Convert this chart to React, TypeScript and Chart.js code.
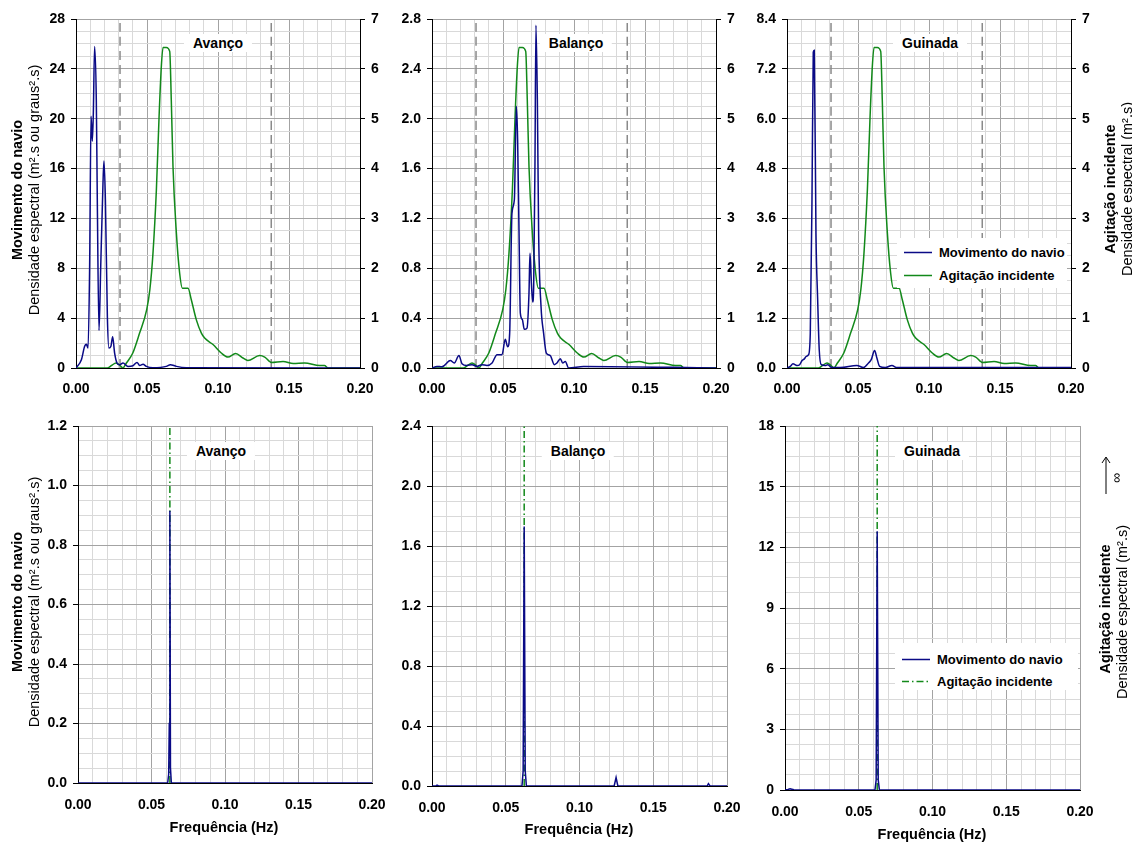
import React, { useEffect, useRef } from 'react';
import { Chart, registerables } from 'chart.js';
Chart.register(...registerables);

const W = 1132;
const H = 843;

// ---------- DATA ----------
// Incident wave spectrum (right axis, top row)
const waveFreq = [0, 0.022, 0.025, 0.0282, 0.031, 0.033, 0.0355, 0.040, 0.0448, 0.0498, 0.052, 0.0542, 0.0566, 0.0585, 0.0601, 0.0613, 0.0636, 0.066, 0.0671, 0.0683, 0.0707, 0.073, 0.0749, 0.0789, 0.0812, 0.0847, 0.0883, 0.0906, 0.0965, 0.1023, 0.107, 0.1124, 0.1176, 0.121, 0.1293, 0.1329, 0.1376, 0.1458, 0.153, 0.161, 0.1716, 0.175, 0.1775, 0.2];
const waveDensity = [0, 0, 0.05, 0.1, 0.05, 0, 0.1, 0.3, 0.7, 1.17, 1.57, 2.3, 3.57, 5.04, 6.05, 6.43, 6.43, 6.35, 5.38, 4.04, 2.7, 1.9, 1.6, 1.6, 1.37, 0.97, 0.7, 0.6, 0.47, 0.3, 0.22, 0.29, 0.2, 0.15, 0.25, 0.22, 0.11, 0.13, 0.09, 0.1, 0.05, 0.05, 0, 0];

// Ship motion, irregular waves (top row)
const avancoFreq = [0, 0.0038, 0.0061, 0.0073, 0.0085, 0.0096, 0.0106, 0.0115, 0.0122, 0.0131, 0.0143, 0.015, 0.0162, 0.0174, 0.019, 0.0197, 0.0207, 0.0221, 0.0232, 0.0246, 0.0258, 0.0272, 0.0289, 0.0308, 0.0331, 0.0366, 0.0401, 0.043, 0.0448, 0.0472, 0.0495, 0.0542, 0.0636, 0.0664, 0.0707, 0.0777, 0.2];
const avancoDensity = [0, 0.67, 1.74, 1.9, 1.6, 8.1, 20.2, 18.2, 20.4, 25.8, 21.5, 13.5, 3.0, 8.1, 14.8, 16.6, 13.5, 4.1, 1.6, 1.74, 2.5, 1.2, 0.4, 0.27, 0.4, 0.13, 0.18, 0.45, 0.2, 0.3, 0.13, 0.03, 0.13, 0.27, 0.13, 0.03, 0];

const balancoFreq = [0, 0.0035, 0.007, 0.0129, 0.0157, 0.019, 0.0211, 0.0246, 0.0282, 0.0317, 0.0352, 0.0387, 0.0423, 0.0458, 0.0493, 0.0516, 0.0533, 0.0547, 0.0563, 0.058, 0.0594, 0.0603, 0.0613, 0.0622, 0.0636, 0.065, 0.0669, 0.0683, 0.069, 0.07, 0.0709, 0.0716, 0.0725, 0.0732, 0.0742, 0.0751, 0.0768, 0.0786, 0.0805, 0.0833, 0.0861, 0.088, 0.0904, 0.092, 0.0939, 0.0962, 0.1068, 0.2];
const balancoDensity = [0, 0.013, 0.01, 0.06, 0.04, 0.1, 0.035, 0.02, 0.027, 0.013, 0.027, 0.02, 0.04, 0.107, 0.107, 0.23, 0.17, 0.28, 1.24, 1.35, 2.1, 1.83, 1.08, 0.44, 0.39, 0.31, 0.32, 0.6, 0.92, 0.68, 0.53, 0.65, 1.62, 2.75, 2.15, 1.08, 0.49, 0.28, 0.12, 0.1, 0.027, 0.04, 0.075, 0.04, 0.053, 0, 0.013, 0];

const guinadaFreq = [0, 0.0023, 0.0042, 0.007, 0.0089, 0.0106, 0.0122, 0.0136, 0.0152, 0.0164, 0.0176, 0.0185, 0.0192, 0.0204, 0.0216, 0.0227, 0.0241, 0.027, 0.0286, 0.0317, 0.0375, 0.0492, 0.0539, 0.0574, 0.0593, 0.0617, 0.0633, 0.0652, 0.0692, 0.0739, 0.0774, 0.2];
const guinadaDensity = [0, 0.04, 0.1, 0.06, 0.08, 0.18, 0.22, 0.28, 0.32, 0.84, 4.05, 7.6, 7.65, 3.24, 1.64, 0.44, 0.08, 0.06, 0.08, 0.01, 0.01, 0.06, 0.01, 0.12, 0.2, 0.42, 0.24, 0.04, 0.01, 0.06, 0.01, 0.01];

// Ship motion, regular waves (bottom row)
const avancoRegFreq = [0, 0.061, 0.0617, 0.0621, 0.0625, 0.0629, 0.0635, 0.2];
const avancoRegDensity = [0, 0, 0.03, 0.2, 0.915, 0.05, 0, 0];
const balancoRegFreq = [0, 0.0025, 0.0034, 0.0045, 0.061, 0.0618, 0.0625, 0.0632, 0.064, 0.1235, 0.1248, 0.126, 0.1865, 0.1874, 0.1885, 0.2];
const balancoRegDensity = [0, 0, 0.006, 0, 0, 0.1, 1.73, 0.1, 0, 0, 0.056, 0, 0, 0.016, 0, 0];
const guinadaRegFreq = [0, 0.002, 0.0034, 0.006, 0.061, 0.0618, 0.0625, 0.0632, 0.064, 0.2];
const guinadaRegDensity = [0, 0.03, 0.06, 0.01, 0, 0.5, 12.8, 0.5, 0, 0];

// Regular incident wave: a single frequency with infinite density
const regularWaveFreq = 0.0625;
const INFINITE_DENSITY = 1e6;

// Band limits (dashed lines, top row)
const bandLimits = [0.031, 0.1375];

// Axis tick definitions
const xMax = 0.2;
const xMajor = 0.05;
const xMinor = 0.01;
const topLeftMax = [28, 2.8, 8.4];
const topLeftMajor = [4, 0.4, 1.2];
const bottomLeftMax = [1.2, 2.4, 18];
const bottomLeftMajor = [0.2, 0.4, 3];
const waveAxisMax = 7;
const waveAxisMajor = 1;
const panelNames = ['Avanço', 'Balanço', 'Guinada'];

// ---------- STYLE ----------
const BLUE = '#0a0a86';
const GREEN = '#12891a';
const MAJOR = '#a3a3a3';
const MINOR = '#d9d9d9';
const FONT = "'Liberation Sans', Arial, Helvetica, sans-serif";

const isMajor = (v: number, step: number) => Math.abs(v / step - Math.round(v / step)) < 1e-6;
const pts = (xs: number[], ys: number[]) => xs.map((x, i) => ({ x, y: ys[i] }));

type Panel = {
  L: number; T: number; R: number; B: number;
  yMax: number; yMajor: number; dec: number;
  right: boolean; xPad: number; datasets: any[];
};

const lineDs = (data: any[], color: string, axis: string, extra: any = {}) => ({
  data, borderColor: color, borderWidth: 1.5, yAxisID: axis, pointRadius: 0,
  cubicInterpolationMode: 'monotone', tension: 0.4, fill: false, ...extra,
});

const topSeries = [
  [avancoFreq, avancoDensity],
  [balancoFreq, balancoDensity],
  [guinadaFreq, guinadaDensity],
];
const bottomSeries = [
  [avancoRegFreq, avancoRegDensity],
  [balancoRegFreq, balancoRegDensity],
  [guinadaRegFreq, guinadaRegDensity],
];

const topRects = [[76, 360], [432, 716], [787, 1071]];
const bottomRects = [[78, 372, 783], [432, 727, 786], [785, 1080, 790]];

const panels: Panel[] = [
  ...topRects.map(([L, R], i) => ({
    L, R, T: 19, B: 368, yMax: topLeftMax[i], yMajor: topLeftMajor[i], dec: i === 0 ? 0 : 1,
    right: true, xPad: 13,
    datasets: [
      lineDs(pts(topSeries[i][0], topSeries[i][1]), BLUE, 'y'),
      lineDs(pts(waveFreq, waveDensity), GREEN, 'y2'),
      ...bandLimits.map((f) => lineDs([{ x: f, y: 0 }, { x: f, y: topLeftMax[i] }], '#8a8a8a', 'y', { borderDash: [9, 5], borderWidth: 1.5, tension: 0 })),
    ],
  })),
  ...bottomRects.map(([L, R, B], i) => ({
    L, R, T: 426, B, yMax: bottomLeftMax[i], yMajor: bottomLeftMajor[i], dec: i === 2 ? 0 : 1,
    right: false, xPad: 14,
    datasets: [
      lineDs(pts(bottomSeries[i][0], bottomSeries[i][1]), BLUE, 'y', { tension: 0, cubicInterpolationMode: 'default' }),
      lineDs([{ x: regularWaveFreq, y: 0 }, { x: regularWaveFreq, y: INFINITE_DENSITY }], GREEN, 'y', { borderDash: [7, 3, 1.5, 3], tension: 0, cubicInterpolationMode: 'default' }),
    ],
  })),
];

const tickFont = { family: FONT, size: 14, weight: 'bold' as const };

function makeConfig(p: Panel): any {
  const yL = 45, yR = p.right ? 30 : 0, xH = 30;
  const scales: any = {
    x: {
      type: 'linear', min: 0, max: xMax,
      afterFit: (s: any) => { s.height = xH; },
      ticks: {
        stepSize: xMinor, autoSkip: false, maxRotation: 0, minRotation: 0, padding: p.xPad,
        color: '#000', font: tickFont,
        callback: (v: any) => (isMajor(Number(v), xMajor) ? Number(v).toFixed(2) : ''),
      },
      grid: {
        color: (c: any) => (isMajor(c.tick.value, xMajor) ? MAJOR : MINOR),
        drawTicks: false, lineWidth: 1,
      },
      border: { color: '#000', width: 1 },
    },
    y: {
      type: 'linear', position: 'left', min: 0, max: p.yMax,
      afterFit: (s: any) => { s.width = yL; },
      ticks: {
        stepSize: p.yMajor / 4, autoSkip: false, padding: 6, color: '#000', font: tickFont,
        callback: (v: any) => (isMajor(Number(v), p.yMajor) ? Number(v).toFixed(p.dec) : ''),
      },
      grid: {
        color: (c: any) => (isMajor(c.tick.value, p.yMajor) ? MAJOR : MINOR),
        tickColor: (c: any) => (isMajor(c.tick.value, p.yMajor) ? '#000' : 'rgba(0,0,0,0)'),
        tickLength: 5, lineWidth: 1,
      },
      border: { color: '#000', width: 1 },
    },
  };
  if (p.right) {
    scales.y2 = {
      type: 'linear', position: 'right', min: 0, max: waveAxisMax,
      afterFit: (s: any) => { s.width = yR; },
      ticks: { stepSize: waveAxisMajor, autoSkip: false, padding: 6, color: '#000', font: tickFont, callback: (v: any) => String(v) },
      grid: { drawOnChartArea: false, tickLength: 5, tickColor: '#000' },
      border: { color: '#000', width: 1 },
    };
  }
  return {
    type: 'line',
    data: { datasets: p.datasets },
    options: {
      responsive: false, animation: false, events: [],
      layout: { padding: { left: p.L - yL, right: W - p.R - yR, top: p.T, bottom: H - p.B - xH } },
      plugins: { legend: { display: false }, tooltip: { enabled: false }, title: { display: false } },
      elements: { point: { radius: 0 } },
      scales,
    },
  };
}

const abs = (x: number, y: number, extra: React.CSSProperties = {}): React.CSSProperties => ({
  position: 'absolute', left: x, top: y, whiteSpace: 'nowrap', ...extra,
});

function VText({ x, y, bold, size, children }: any) {
  return (
    <div style={abs(x, y, { transform: 'translate(-50%,-50%) rotate(-90deg)', fontWeight: bold ? 'bold' : 'normal', fontSize: size, color: '#000' })}>
      {children}
    </div>
  );
}

function Label({ x, y, text }: any) {
  return (
    <div style={abs(x, y, { transform: 'translate(-50%,-50%)', background: '#fff', padding: '1px 9px', fontWeight: 'bold', fontSize: 14 })}>{text}</div>
  );
}

function Legend({ x, y, w, h, rowY, dashed }: any) {
  return (
    <div style={abs(x, y, { width: w, height: h, background: '#fff' })}>
      {[['Movimento do navio', BLUE, false], ['Agitação incidente', GREEN, dashed]].map(([t, c, d]: any, i: number) => (
        <div key={i} style={abs(0, rowY[i], { display: 'flex', alignItems: 'center', transform: 'translateY(-50%)' })}>
          <svg width={38} height={6} style={{ marginLeft: 4 }}>
            <line x1={3} y1={3} x2={31} y2={3} stroke={c} strokeWidth={1.6} strokeDasharray={d ? '7 3 1.5 3' : undefined} />
          </svg>
          <span style={{ fontWeight: 'bold', fontSize: 13, marginLeft: 0 }}>{t}</span>
        </div>
      ))}
    </div>
  );
}

export default function App() {
  const refs = useRef<(HTMLCanvasElement | null)[]>([]);
  useEffect(() => {
    document.body.style.margin = '0';
    const charts = panels.map((p, i) => new Chart(refs.current[i] as HTMLCanvasElement, makeConfig(p)));
    return () => charts.forEach((c) => c.destroy());
  }, []);

  return (
    <div style={{ position: 'relative', width: W, height: H, background: '#fff', fontFamily: FONT, overflow: 'hidden' }}>
      {panels.map((_, i) => (
        <canvas key={i} ref={(el) => { refs.current[i] = el; }} width={W} height={H} style={{ position: 'absolute', left: 0, top: 0 }} />
      ))}
      {panelNames.map((n, i) => (
        <Label key={'t' + i} x={[218, 576, 930][i]} y={43} text={n} />
      ))}
      {panelNames.map((n, i) => (
        <Label key={'b' + i} x={[221, 578, 932][i]} y={451} text={n} />
      ))}
      {[224, 579, 932].map((x, i) => (
        <div key={'xf' + i} style={abs(x, [827, 829, 834][i], { transform: 'translate(-50%,-50%)', fontWeight: 'bold', fontSize: 14.5 })}>Frequência (Hz)</div>
      ))}
      <VText x={17} y={190} bold size={14.5}>Movimento do navio</VText>
      <VText x={34} y={190} size={14.5}>Densidade espectral (m².s ou graus².s)</VText>
      <VText x={17} y={602} bold size={14.5}>Movimento do navio</VText>
      <VText x={34} y={602} size={14.5}>Densidade espectral (m².s ou graus².s)</VText>
      <VText x={1110} y={189} bold size={14.5}>Agitação incidente</VText>
      <VText x={1127} y={189} size={14.5}>Densidade espectral (m².s)</VText>
      <VText x={1105} y={609} bold size={14.5}>Agitação incidente</VText>
      <VText x={1122} y={612} size={14.5}>Densidade espectral (m².s)</VText>
      <svg width={16} height={40} style={abs(1098, 456)}>
        <line x1={8} y1={2} x2={8} y2={38} stroke="#000" strokeWidth={1} />
        <polyline points="4,7 8,1 12,7" fill="none" stroke="#000" strokeWidth={1} />
      </svg>
      <VText x={1116} y={478} size={14}>∞</VText>
      <Legend x={897} y={238} w={170} h={50} rowY={[14, 37]} dashed={false} />
      <Legend x={895} y={643} w={183} h={47} rowY={[16, 38]} dashed />
    </div>
  );
}
